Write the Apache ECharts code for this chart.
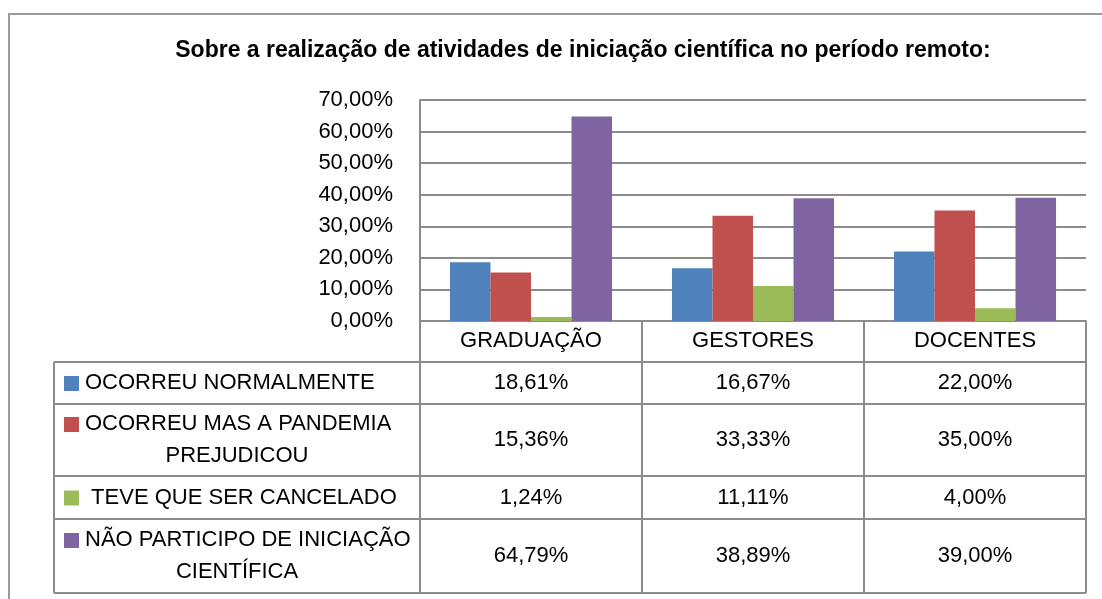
<!DOCTYPE html>
<html>
<head>
<meta charset="utf-8">
<script src="https://cdn.jsdelivr.net/npm/echarts@6/dist/echarts.min.js"></script>
<style>
  html, body { margin: 0; padding: 0; background: #fff; }
  #grafico { width: 1102px; height: 599px; }
</style>
</head>
<body>
<div id="grafico"></div>
<script>
// dados do gráfico
var categorias = ['GRADUAÇÃO', 'GESTORES', 'DOCENTES'];
var nomesSeries = ['OCORREU NORMALMENTE', 'OCORREU MAS A PANDEMIA\nPREJUDICOU', ' TEVE QUE SER CANCELADO', 'NÃO PARTICIPO DE INICIAÇÃO\nCIENTÍFICA'];
var ocorreuNormal = [18.61, 16.67, 22.00];
var ocorreuPrejudicou = [15.36, 33.33, 35.00];
var cancelado = [1.24, 11.11, 4.00];
var naoParticipo = [64.79, 38.89, 39.00];
var ticksY = [0, 10, 20, 30, 40, 50, 60, 70];

var valores = [ocorreuNormal, ocorreuPrejudicou, cancelado, naoParticipo];
var cores = ['#4F81BD', '#C0504D', '#9BBB59', '#8064A2'];
var fonte = '"Liberation Sans", Arial, sans-serif';
var cinza = '#8c8c8c';

// layout da tabela
var plotEsq = 420, plotDir = 1086, plotTopo = 100, plotBase = 321;
var tabEsq = 54;
var linhasTab = [362, 404, 476, 519, 593];

function pct(v) {
    return v.toFixed(2).replace('.', ',') + '%';
}

var grafico = echarts.init(document.getElementById('grafico'));

var graficos = [];
// borda externa
graficos.push({ type: 'polyline', shape: { points: [[9, 700], [9, 14], [1200, 14]] }, style: { stroke: '#9a9a9a', lineWidth: 2, fill: null } });
// titulo
graficos.push({
    type: 'text', x: 583, y: 51,
    style: { text: 'Sobre a realização de atividades de iniciação científica no período remoto:', font: 'bold 23px ' + fonte, fill: '#000', align: 'center', verticalAlign: 'middle' }
});
// linhas horizontais da tabela
linhasTab.forEach(function (y) {
    graficos.push({ type: 'line', shape: { x1: tabEsq, y1: y, x2: plotDir, y2: y }, style: { stroke: cinza, lineWidth: 2 } });
});
graficos.push({ type: 'line', shape: { x1: tabEsq, y1: linhasTab[0], x2: tabEsq, y2: linhasTab[linhasTab.length - 1] }, style: { stroke: cinza, lineWidth: 2 } });

// legenda + valores
var largCol = (plotDir - plotEsq) / categorias.length;
nomesSeries.forEach(function (nome, i) {
    var yTopo = linhasTab[i], yBase = linhasTab[i + 1];
    var meio = (yTopo + yBase) / 2;
    var partes = nome.split('\n');
    var alturaLinha = 32;
    var y0 = meio - (partes.length - 1) * alturaLinha / 2;
    graficos.push({ type: 'rect', shape: { x: 64, y: y0 - 7, width: 15, height: 15 }, style: { fill: cores[i] } });
    partes.forEach(function (p, k) {
        graficos.push({
            type: 'text', x: k === 0 ? 85 : (tabEsq + plotEsq) / 2, y: y0 + k * alturaLinha,
            style: { text: p, font: '22px ' + fonte, fill: '#000', align: k === 0 ? 'left' : 'center', verticalAlign: 'middle' }
        });
    });
    valores[i].forEach(function (v, j) {
        graficos.push({
            type: 'text', x: plotEsq + largCol * (j + 0.5), y: meio,
            style: { text: pct(v), font: '22px ' + fonte, fill: '#000', align: 'center', verticalAlign: 'middle' }
        });
    });
});

var option = {
    animation: false,
    grid: { left: plotEsq, right: 1102 - plotDir, top: plotTopo, bottom: 599 - plotBase },
    xAxis: {
        type: 'category',
        data: categorias,
        axisLine: { show: true, lineStyle: { color: cinza, width: 2 } },
        axisTick: { show: true, length: linhasTab[linhasTab.length - 1] - plotBase, lineStyle: { color: cinza, width: 2 } },
        axisLabel: { margin: 9, fontSize: 22, fontFamily: fonte, color: '#000' }
    },
    yAxis: {
        type: 'value',
        min: ticksY[0],
        max: ticksY[ticksY.length - 1],
        interval: 10,
        axisLine: { show: true, lineStyle: { color: cinza, width: 2 } },
        axisTick: { show: false },
        splitLine: { lineStyle: { color: cinza, width: 2 } },
        axisLabel: {
            margin: 27, fontSize: 22, fontFamily: fonte, color: '#000',
            formatter: function (v) { return pct(v); }
        }
    },
    series: valores.map(function (vals, i) {
        return {
            name: nomesSeries[i].replace('\n', ' '),
            type: 'bar',
            data: vals,
            barGap: '0%',
            barCategoryGap: '27%',
            itemStyle: { color: cores[i] }
        };
    }),
    graphic: graficos
};

grafico.setOption(option);
</script>
</body>
</html>
